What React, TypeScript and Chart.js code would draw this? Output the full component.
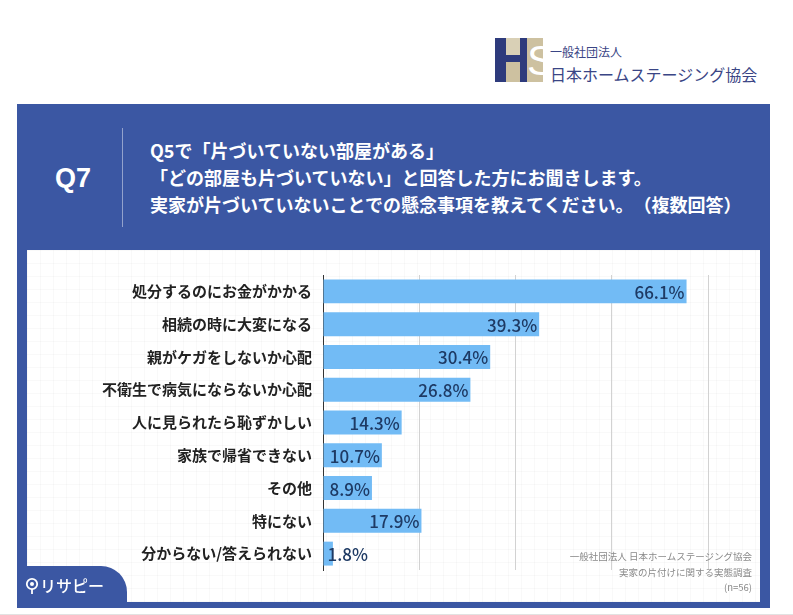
import React, { useEffect, useRef } from "react";
import { Chart, registerables } from "chart.js";

Chart.register(...registerables);

const categories = [
  "処分するのにお金がかかる",
  "相続の時に大変になる",
  "親がケガをしないか心配",
  "不衛生で病気にならないか心配",
  "人に見られたら恥ずかしい",
  "家族で帰省できない",
  "その他",
  "特にない",
  "分からない/答えられない",
];
const values = [66.1, 39.3, 30.4, 26.8, 14.3, 10.7, 8.9, 17.9, 1.8];
const valueLabels = ["66.1%", "39.3%", "30.4%", "26.8%", "14.3%", "10.7%", "8.9%", "17.9%", "1.8%"];
const axisMax = 70;
const axisStep = 17.5;

const questionNo = "Q7";
const questionLines = [
  "Q5で「片づいていない部屋がある」",
  "「どの部屋も片づいていない」と回答した方にお聞きします。",
  "実家が片づいていないことでの懸念事項を教えてください。（複数回答）",
];
const noteLines = ["一般社団法人 日本ホームステージング協会", "実家の片付けに関する実態調査", "(n=56)"];
const orgSmall = "一般社団法人";
const orgLarge = "日本ホームステージング協会";
const brand = "リサピー";

const JP = '"Noto Sans CJK JP", "Noto Sans", sans-serif';
const BLUE = "#3b57a3";

export default function App() {
  const canvasRef = useRef<HTMLCanvasElement | null>(null);

  useEffect(() => {
    if (!canvasRef.current) return;
    const valuePlugin = {
      id: "valueLabels",
      afterDatasetsDraw(chart: any) {
        const ctx = chart.ctx;
        const meta = chart.getDatasetMeta(0);
        ctx.save();
        ctx.font = `500 17px ${JP}`;
        ctx.fillStyle = "#1e3a64";
        ctx.textBaseline = "middle";
        ctx.textAlign = "left";
        meta.data.forEach((bar: any, i: number) => {
          const p = bar.getProps(["x", "y", "base"], true);
          const txt = valueLabels[i];
          const w = ctx.measureText(txt).width;
          let tx = p.x - 2 - w;
          if (tx < p.base + 4) tx = p.base + 4;
          ctx.fillText(txt, tx, p.y + 1);
        });
        ctx.restore();
      },
    };
    const chart = new Chart(canvasRef.current, {
      type: "bar",
      data: {
        labels: categories,
        datasets: [
          {
            data: values,
            backgroundColor: "#72bbf5",
            borderWidth: 0,
            barPercentage: 0.73,
            categoryPercentage: 1,
          },
        ],
      },
      options: {
        indexAxis: "y",
        animation: false,
        responsive: false,
        maintainAspectRatio: false,
        layout: { padding: { left: 0, right: 52, top: 18, bottom: 31 } },
        plugins: { legend: { display: false }, tooltip: { enabled: false } },
        scales: {
          x: {
            min: 0,
            max: axisMax,
            ticks: { display: false, stepSize: axisStep },
            grid: {
              drawTicks: false,
              color: (c: any) => (c.tick && c.tick.value === 0 ? "rgba(0,0,0,0)" : "#d2d2d2"),
              lineWidth: 1,
            },
            border: { display: false },
            afterFit: (s: any) => {
              s.height = 0;
            },
          },
          y: {
            ticks: {
              color: "#222",
              padding: 11,
              font: { family: JP, size: 15, weight: "bold" },
            },
            grid: { display: false, drawTicks: false },
            border: { display: true, color: "#333", width: 1 },
            afterFit: (s: any) => {
              s.width = 296;
            },
          },
        },
      },
      plugins: [valuePlugin],
    });
    return () => chart.destroy();
  }, []);

  const abs = (o: React.CSSProperties): React.CSSProperties => ({ position: "absolute", ...o });

  return (
    <div
      style={
        {
          position: "fixed",
          left: 0,
          top: 0,
          width: 793,
          height: 615,
          background: "#fff",
          overflow: "hidden",
          fontFamily: JP,
          textSpacingTrim: "space-all",
        } as any
      }
    >
      {/* top-right logo */}
      <div style={abs({ left: 503, top: 38, width: 40, height: 44, background: "#cdc1a0" })} />
      <div style={abs({ left: 506, top: 38, width: 14, height: 17, background: "#d9d0b6" })} />
      <div style={abs({ left: 495, top: 38, width: 11, height: 44, background: "#2e3b7c" })} />
      <div style={abs({ left: 506, top: 55, width: 15, height: 7, background: "#2e3b7c" })} />
      <div style={abs({ left: 520, top: 38, width: 7, height: 44, background: "#2e3b7c" })} />
      <div style={abs({ left: 527, top: 39, fontFamily: '"Liberation Sans", sans-serif', fontSize: 42, lineHeight: "44px", color: "#ffffff", fontWeight: 400 })}>S</div>
      <div style={abs({ left: 550, top: 45, fontSize: 12, lineHeight: "14px", color: "#3a4585", whiteSpace: "nowrap" })}>{orgSmall}</div>
      <div style={abs({ left: 550, top: 64, fontSize: 16, lineHeight: "20px", color: "#3a4585", whiteSpace: "nowrap" })}>{orgLarge}</div>

      {/* frame */}
      <div style={abs({ left: 17, top: 104, width: 753, height: 504, background: BLUE })} />
      <div
        style={abs({
          left: 27,
          top: 250,
          width: 733,
          height: 352,
          backgroundColor: "#fff",
          backgroundImage:
            "linear-gradient(rgba(0,0,0,0.025) 1px, transparent 1px), linear-gradient(90deg, rgba(0,0,0,0.025) 1px, transparent 1px)",
          backgroundSize: "13px 13px",
        })}
      />

      {/* header */}
      <div style={abs({ left: 36, top: 162, width: 74, textAlign: "center", color: "#fff", fontFamily: '"Liberation Sans", Arial, sans-serif', fontWeight: "bold", fontSize: 27, lineHeight: "32px" })}>
        {questionNo}
      </div>
      <div style={abs({ left: 122, top: 128, width: 1, height: 99, background: "rgba(255,255,255,0.45)" })} />
      {questionLines.map((t, i) => (
        <div key={i} style={abs({ left: 150, top: 137 + i * 27, color: "#fff", fontWeight: "bold", fontSize: 18, lineHeight: "26px", whiteSpace: "nowrap" })}>
          {t}
        </div>
      ))}

      {/* chart */}
      <canvas ref={canvasRef} width={733} height={346} style={abs({ left: 27, top: 255, width: 733, height: 346 })} />

      {/* note */}
      {noteLines.map((t, i) => (
        <div key={i} style={abs({ right: 793 - 752, top: 549 + i * 15.5, color: "#8a8a8a", fontSize: 9.5, lineHeight: "14px", whiteSpace: "nowrap", textAlign: "right" })}>
          {t}
        </div>
      ))}

      {/* brand tab */}
      <div style={abs({ left: 17, top: 566, width: 110, height: 42, background: BLUE, borderTopRightRadius: 26 })} />
      <svg style={abs({ left: 25, top: 577 })} width="14" height="18" viewBox="0 0 14 18">
        <circle cx="7" cy="7" r="5.2" fill="none" stroke="#fff" strokeWidth="1.8" />
        <circle cx="7" cy="7" r="2" fill="#fff" />
        <line x1="7" y1="12" x2="7" y2="17" stroke="#fff" strokeWidth="1.8" />
      </svg>
      <div style={abs({ left: 40, top: 574, color: "#fff", fontSize: 16, lineHeight: "22px", whiteSpace: "nowrap", fontWeight: 500 })}>{brand}</div>

      {/* bottom line */}
      <div style={abs({ left: 0, top: 614, width: 793, height: 1, background: "#e2e2e2" })} />
    </div>
  );
}
